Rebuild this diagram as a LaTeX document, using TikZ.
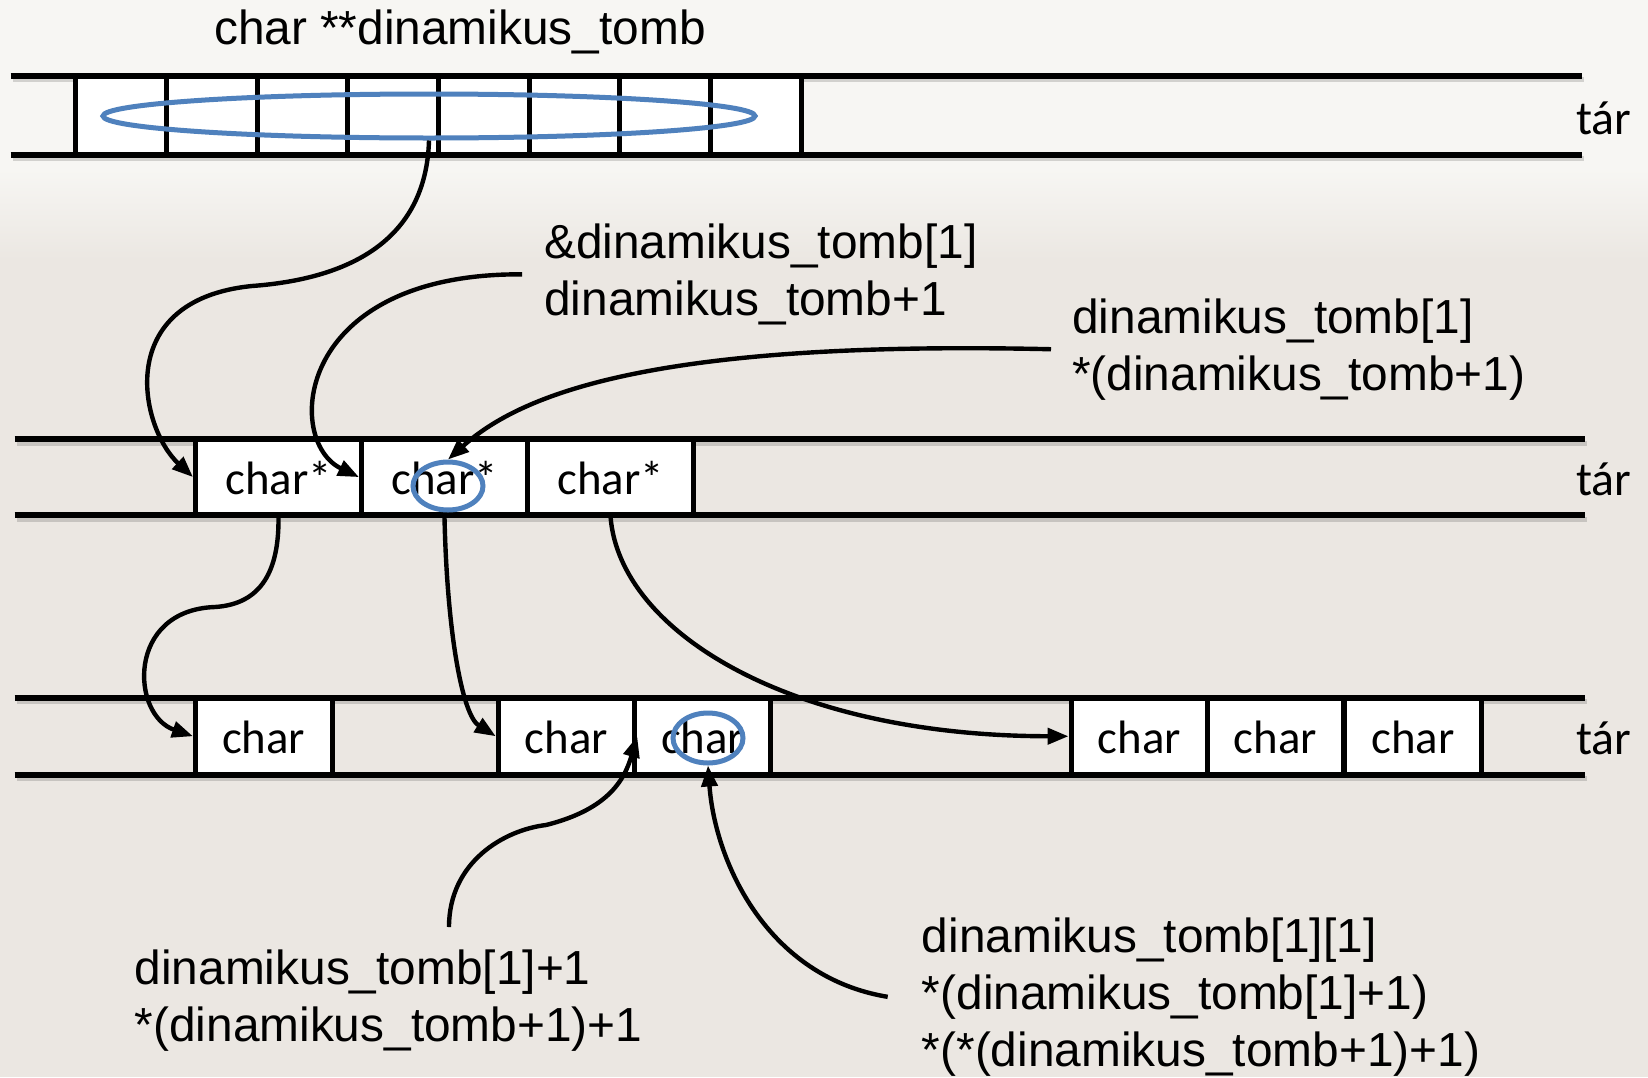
\documentclass[tikz,border=0pt]{standalone}
\usepackage{fontspec}
\setmainfont{Liberation Sans}
\newfontfamily\cellfont{Carlito}
\usetikzlibrary{arrows.meta,shapes.geometric}

\definecolor{bgtop}{HTML}{F7F6F3}
\definecolor{bgbot}{HTML}{EBE7E2}
\definecolor{ovalblue}{HTML}{4F81BD}

\begin{document}
\begin{tikzpicture}[x=1bp,y=-1bp,
  band/.style={line width=6bp, black, line cap=butt},
  bandshadow/.style={line width=5bp, black, opacity=0.15},
  cellbase/.style={draw=black, fill=white, line width=5bp, inner sep=0pt,
    font=\cellfont\fontsize{47}{56}\selectfont, text height=36bp, text depth=2bp},
  topcell/.style={cellbase, minimum width=90.7bp, minimum height=78.8bp},
  midcell/.style={cellbase, minimum width=166bp, minimum height=75.7bp},
  lowcell/.style={cellbase, minimum width=136.5bp, minimum height=76.7bp},
  oval/.style={ellipse, draw=ovalblue, line width=5bp, inner sep=0pt},
  conn/.style={line width=4.4bp, black, -{Triangle[length=21bp,width=16bp]}},
  lbl/.style={font=\fontsize{48}{57}\selectfont, align=left, inner sep=0pt},
  tarlbl/.style={font=\cellfont\fontsize{48}{57}\selectfont, inner sep=0pt},
]
\useasboundingbox (0,0) rectangle (1648,1077);

% background
\fill[bgbot] (0,0) rectangle (1648,1077);
\fill[bgtop] (0,0) rectangle (1648,170);
\shade[top color=bgtop, bottom color=bgbot] (0,169) rectangle (1648,260);

% band shadows
\foreach \y/\a/\b in {75.7/10.5/1582, 154.5/10.5/1582, 439.3/14.7/1585, 515/14.7/1585, 697.9/14.7/1585, 774.6/14.7/1585}
  \draw[bandshadow] (\a+2,\y+4) -- (\b+2,\y+4);

% top memory row: the pointer array of eight cells
\foreach \i in {0,...,7}
  \node[topcell] (t\i) at ({121.05+90.7*\i},115.1) {};

% middle memory row: three char* cells
\node[midcell] (m1) at (278.5,477.1) {char*};
\node[midcell] (m2) at (444.5,477.1) {char*};
\node[midcell] (m3) at (610.6,477.1) {char*};

% bottom memory row: char cells
\node[lowcell] (c1) at (263.75,736.25) {char};
\node[lowcell] (c2) at (566.5,736.25) {char};
\node[lowcell] (c3) at (702.6,736.25) {char};
\node[lowcell] (d1) at (1139.25,736.25) {char};
\node[lowcell] (d2) at (1275.35,736.25) {char};
\node[lowcell] (d3) at (1413.1,736.25) {char};

% band lines
\draw[band] (10.5,75.7) -- (1582,75.7);
\draw[band] (10.5,154.5) -- (1582,154.5);
\draw[band] (14.7,439.3) -- (1585,439.3);
\draw[band] (14.7,515) -- (1585,515);
\draw[band] (14.7,697.9) -- (1585,697.9);
\draw[band] (14.7,774.6) -- (1585,774.6);

% highlight ovals
\node[oval, minimum width=652bp, minimum height=44bp] (ell1) at (429,116) {};
\node[oval, minimum width=70bp, minimum height=48bp] (ell2) at (448,486) {};
\node[oval, minimum width=70bp, minimum height=50bp] (ell3) at (708,738) {};

% texts (multi-line labels are anchored at the baseline of their last line)
\node[lbl, anchor=base] (title) at (460,44) {char **dinamikus\_tomb};
\node[tarlbl, anchor=base west] (tar1) at (1576,134) {tár};
\node[tarlbl, anchor=base west] (tar2) at (1576,495) {tár};
\node[tarlbl, anchor=base west] (tar3) at (1576,754) {tár};

\node[lbl, anchor=base west] (lblA) at (544,315.3) {\&dinamikus\_tomb[1]\\dinamikus\_tomb+1};
\node[lbl, anchor=base west] (lblB) at (1072,390) {dinamikus\_tomb[1]\\*(dinamikus\_tomb+1)};
\node[lbl, anchor=base west] (lblC) at (134.5,1041.5) {dinamikus\_tomb[1]+1\\*(dinamikus\_tomb+1)+1};
\node[lbl, anchor=base west] (lblD) at (921.7,1066) {dinamikus\_tomb[1][1]\\*(dinamikus\_tomb[1]+1)\\*(*(dinamikus\_tomb+1)+1)};

% connectors
\draw[conn] (ell1.south) .. controls (426,242) and (347,279) .. (252,286)
  .. controls (112,300) and (140,428) .. (m1.west);
\draw[conn] ([xshift=-22bp]lblA.west) .. controls (294,273) and (284,441) .. (m2.west);
\draw[conn] ([xshift=-21bp]lblB.west) .. controls (650,340) and (520,395) .. (ell2.north);
\draw[conn] (m1.south) .. controls (279,570) and (262,604) .. (215,607)
  .. controls (126,610) and (131,715) .. (c1.west);
\draw[conn] (m2.south) .. controls (447,631) and (462,715) .. (c2.west);
\draw[conn] (m3.south) .. controls (620,631) and (788,736) .. (d1.west);
\coordinate (c7) at (449,927);
\draw[conn] (c7) .. controls (449,862) and (504,830) .. (546,825)
  .. controls (610,809) and (625,778) .. (c2.east);
\draw[conn] ([xshift=-34bp]lblD.west) .. controls (767,977) and (715,862) .. (ell3.south);
\end{tikzpicture}
\end{document}
